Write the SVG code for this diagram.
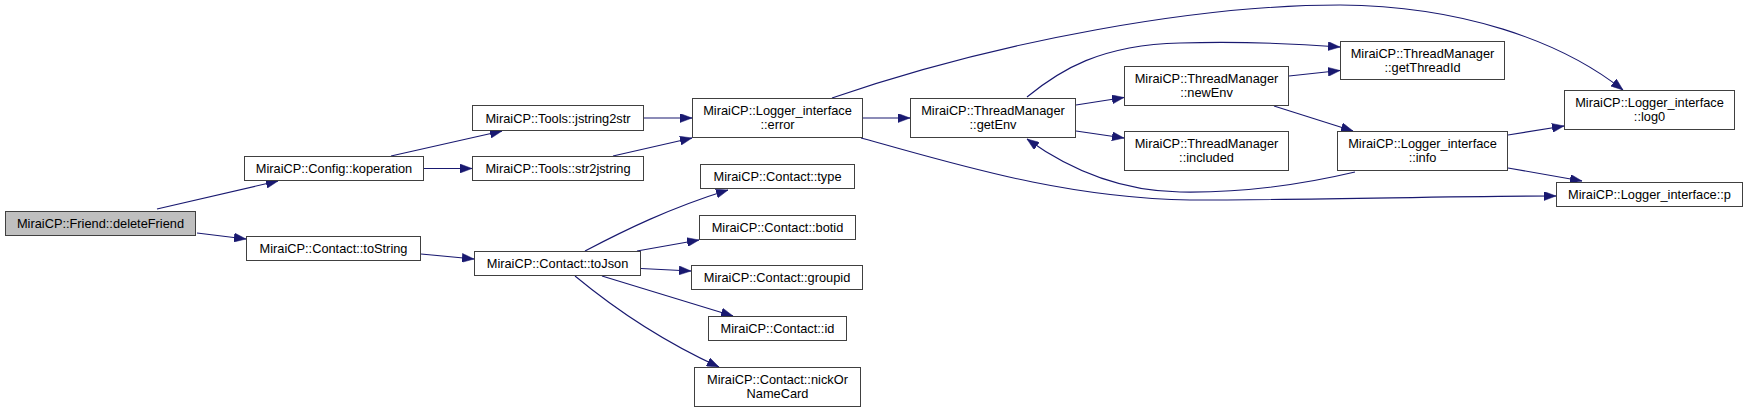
<svg xmlns="http://www.w3.org/2000/svg" width="1748" height="413" viewBox="0 0 1748 413">
<style>
.n rect{fill:#ffffff;stroke:#404040;stroke-width:1}
.n.root rect{fill:#bfbfbf}
.n text{font-family:"Liberation Sans",Arial,sans-serif;font-size:12.8px;fill:#000;text-anchor:middle}
.e path{fill:none;stroke:#191970;stroke-width:1.1;marker-end:url(#ah)}
</style>
<defs>
<marker id="ah" viewBox="0 0 12 9" refX="12" refY="4.5" markerWidth="12" markerHeight="9" markerUnits="userSpaceOnUse" orient="auto">
<path d="M0,0 L12,4.5 L0,9 z" fill="#191970" stroke="#191970" stroke-width="0.5"/>
</marker>
</defs>
<rect width="1748" height="413" fill="#ffffff"/>
<g id="edges" class="e">
<path d="M157,209 L278,181"/>
<path d="M197,233 L246,239"/>
<path d="M391,156 L502,131"/>
<path d="M424,168.5 L472,168.5"/>
<path d="M644,118 L692,118"/>
<path d="M613,156 L692,138"/>
<path d="M863,118 L910,118"/>
<path d="M832,98 C1000,40 1200,5 1340,5 C1460,6 1560,40 1623,90"/>
<path d="M861,138 C950,162 1060,198 1190,200 C1320,200 1450,196 1556,196"/>
<path d="M1027,97 C1060,70 1100,45 1180,43 C1250,41 1300,44 1340,47"/>
<path d="M1076,105 L1124,97.5"/>
<path d="M1076,131 L1124,138"/>
<path d="M1289,76 L1340,70.5"/>
<path d="M1274,106 L1353,131"/>
<path d="M1355,172 C1300,185 1240,193 1180,192 C1120,191 1070,170 1027,139"/>
<path d="M1508,135 L1564,126"/>
<path d="M1508,168 L1582,181"/>
<path d="M421,254 L474,259"/>
<path d="M585,251 C625,230 670,208 728,190"/>
<path d="M637,251 L699,240"/>
<path d="M641,268.5 L691,271"/>
<path d="M602,276 L733,316"/>
<path d="M575,276 C610,305 660,340 719,367"/>
</g>
<g id="deleteFriend" class="n root"><rect x="5.5" y="211.5" width="190" height="24"/><text x="100.5" y="228">MiraiCP::Friend::deleteFriend</text></g>
<g id="koperation" class="n"><rect x="244.5" y="156.5" width="179" height="24"/><text x="334" y="173">MiraiCP::Config::koperation</text></g>
<g id="toString" class="n"><rect x="246.5" y="236.5" width="174" height="24"/><text x="333.5" y="253">MiraiCP::Contact::toString</text></g>
<g id="jstring2str" class="n"><rect x="472.5" y="105.5" width="171" height="25"/><text x="558" y="122.5">MiraiCP::Tools::jstring2str</text></g>
<g id="str2jstring" class="n"><rect x="472.5" y="156.5" width="171" height="24"/><text x="558" y="173">MiraiCP::Tools::str2jstring</text></g>
<g id="error" class="n"><rect x="692.5" y="98.5" width="170" height="39"/><text x="777.5" y="115">MiraiCP::Logger_interface</text><text x="777.5" y="129">::error</text></g>
<g id="toJson" class="n"><rect x="474.5" y="251.5" width="166" height="24"/><text x="557.5" y="268">MiraiCP::Contact::toJson</text></g>
<g id="type" class="n"><rect x="700.5" y="164.5" width="154" height="24"/><text x="777.5" y="181">MiraiCP::Contact::type</text></g>
<g id="botid" class="n"><rect x="699.5" y="215.5" width="156" height="24"/><text x="777.5" y="232">MiraiCP::Contact::botid</text></g>
<g id="groupid" class="n"><rect x="691.5" y="265.5" width="171" height="24"/><text x="777" y="282">MiraiCP::Contact::groupid</text></g>
<g id="id" class="n"><rect x="708.5" y="316.5" width="138" height="24"/><text x="777.5" y="333">MiraiCP::Contact::id</text></g>
<g id="nickOrNameCard" class="n"><rect x="694.5" y="367.5" width="166" height="39"/><text x="777.5" y="384">MiraiCP::Contact::nickOr</text><text x="777.5" y="398">NameCard</text></g>
<g id="getEnv" class="n"><rect x="910.5" y="98.5" width="165" height="39"/><text x="993" y="115">MiraiCP::ThreadManager</text><text x="993" y="129">::getEnv</text></g>
<g id="newEnv" class="n"><rect x="1124.5" y="66.5" width="164" height="39"/><text x="1206.5" y="83">MiraiCP::ThreadManager</text><text x="1206.5" y="97">::newEnv</text></g>
<g id="included" class="n"><rect x="1124.5" y="131.5" width="164" height="39"/><text x="1206.5" y="148">MiraiCP::ThreadManager</text><text x="1206.5" y="162">::included</text></g>
<g id="getThreadId" class="n"><rect x="1340.5" y="41.5" width="164" height="38"/><text x="1422.5" y="58">MiraiCP::ThreadManager</text><text x="1422.5" y="72">::getThreadId</text></g>
<g id="info" class="n"><rect x="1337.5" y="131.5" width="170" height="39"/><text x="1422.5" y="148">MiraiCP::Logger_interface</text><text x="1422.5" y="162">::info</text></g>
<g id="log0" class="n"><rect x="1564.5" y="90.5" width="170" height="39"/><text x="1649.5" y="107">MiraiCP::Logger_interface</text><text x="1649.5" y="121">::log0</text></g>
<g id="p" class="n"><rect x="1556.5" y="182.5" width="186" height="24"/><text x="1649.5" y="199">MiraiCP::Logger_interface::p</text></g>
</svg>
